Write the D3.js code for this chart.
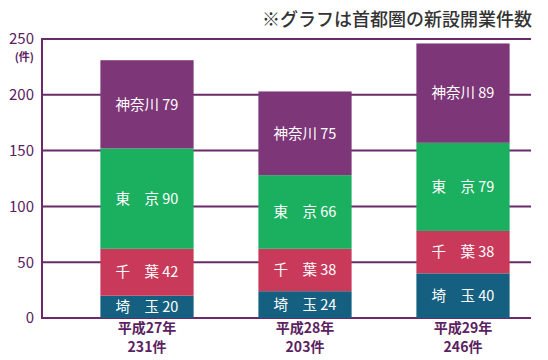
<!DOCTYPE html>
<html><head><meta charset="utf-8">
<script src="https://cdn.jsdelivr.net/npm/d3@7"></script>
<style>
html,body{margin:0;padding:0;background:#fff;}
svg{display:block;font-family:"Noto Sans CJK JP","Noto Sans",sans-serif;}
</style></head>
<body><svg id="c" width="548" height="360"></svg>
<script>
const years = ["平成27年","平成28年","平成29年"];
const totals = ["231件","203件","246件"];
const regions = ["埼　玉","千　葉","東　京","神奈川"];
const saitama = [20,24,40];
const chiba = [42,38,38];
const tokyo = [90,66,79];
const kanagawa = [79,75,89];
const yTicks = [0,50,100,150,200,250];
const colors = ["#155f80","#c93a5a","#1bb05f","#7d3677"];
const title = "※グラフは首都圏の新設開業件数";

const series = [saitama, chiba, tokyo, kanagawa];
const svg = d3.select("#c");
const y = d3.scaleLinear().domain([0,250]).range([318,39]);
const x = d3.scaleBand().domain(years).range([68,542]).paddingInner(0.41).paddingOuter(0.205);
const purple = "#6a2a69";
const textPurple = "#5a2260";

// gridlines
svg.append("g").selectAll("line").data(yTicks).join("line")
  .attr("x1",42).attr("x2",531)
  .attr("y1",d=>y(d)).attr("y2",d=>y(d))
  .attr("stroke",purple).attr("stroke-width",2);
svg.append("line").attr("x1",42).attr("x2",42).attr("y1",y(250)-1).attr("y2",y(0)+1)
  .attr("stroke",purple).attr("stroke-width",2);

// tick labels
svg.append("g").selectAll("text").data(yTicks).join("text")
  .attr("x",34).attr("y",d=>y(d)).attr("dy","0.36em")
  .attr("text-anchor","end").attr("font-size",15).attr("fill",textPurple)
  .text(d=>d);
svg.append("text").attr("x",34).attr("y",y(250)+22).attr("text-anchor","end")
  .attr("font-size",11).attr("font-weight","bold").attr("fill",textPurple).text("(件)");

// stacked bars
const stackData = years.map((yr,i)=>{
  const o = {year:yr};
  regions.forEach((r,j)=>o[r]=series[j][i]);
  return o;
});
const stacked = d3.stack().keys(regions)(stackData);
const g = svg.append("g");
stacked.forEach((layer,j)=>{
  g.append("g").selectAll("rect").data(layer).join("rect")
    .attr("x",d=>x(d.data.year)).attr("width",x.bandwidth())
    .attr("y",d=>y(d[1])).attr("height",d=>y(d[0])-y(d[1]))
    .attr("fill",colors[j]);
  g.append("g").selectAll("text").data(layer).join("text")
    .attr("x",d=>x(d.data.year)+x.bandwidth()/2)
    .attr("y",d=>(y(d[0])+y(d[1]))/2).attr("dy","0.36em")
    .attr("text-anchor","middle").attr("font-size",14.5).attr("fill","#fff")
    .text(d=>layer.key+" "+(d[1]-d[0]));
});

// category labels
svg.append("g").selectAll("text").data(years).join("text")
  .attr("x",d=>x(d)+x.bandwidth()/2).attr("y",333)
  .attr("text-anchor","middle").attr("font-size",14).attr("font-weight","bold").attr("fill",textPurple)
  .text(d=>d);
svg.append("g").selectAll("text").data(totals).join("text")
  .attr("x",(d,i)=>x(years[i])+x.bandwidth()/2).attr("y",352)
  .attr("text-anchor","middle").attr("font-size",14).attr("font-weight","bold").attr("fill",textPurple)
  .text(d=>d);

// title
svg.append("text").attr("x",532).attr("y",26).attr("text-anchor","end")
  .attr("font-size",18).attr("font-weight","500").attr("fill","#333").text(title);
</script></body></html>
